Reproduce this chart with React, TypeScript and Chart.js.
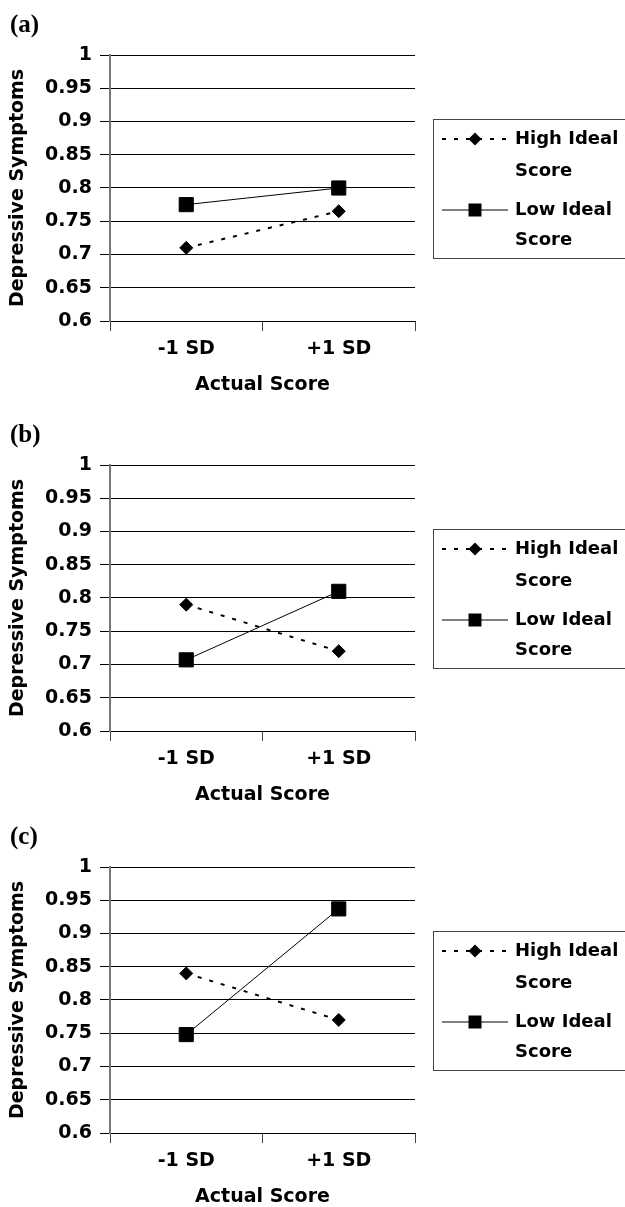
import React, { useEffect, useRef } from 'react';
import { Chart, registerables } from 'chart.js';

Chart.register(...registerables);

const categories = ['-1 SD', '+1 SD'];
const yMin = 0.6;
const yMax = 1;
const yStep = 0.05;
const panelLabels = ['(a)', '(b)', '(c)'];
const highIdealA = [0.71, 0.765];
const lowIdealA = [0.775, 0.8];
const highIdealB = [0.79, 0.72];
const lowIdealB = [0.707, 0.81];
const highIdealC = [0.84, 0.77];
const lowIdealC = [0.748, 0.937];
const seriesNameHigh = ['High Ideal', 'Score'];
const seriesNameLow = ['Low Ideal', 'Score'];
const yTitle = 'Depressive Symptoms';
const xTitle = 'Actual Score';

const panels = [
  { label: panelLabels[0], high: highIdealA, low: lowIdealA, top: 0 },
  { label: panelLabels[1], high: highIdealB, low: lowIdealB, top: 410 },
  { label: panelLabels[2], high: highIdealC, low: lowIdealC, top: 812 },
];

const FONT = 'DejaVu Sans';
const CANVAS_W = 625;
const CANVAS_H = 400;
const PLOT_TOP = 55;
const PLOT_BOTTOM = 321;
const PLOT_LEFT = 110;
const PLOT_RIGHT = 415;

const sideLegend = {
  id: 'sideLegend',
  afterDraw(chart: any) {
    const ctx = chart.ctx;
    const t = chart.chartArea.top;
    ctx.save();
    ctx.strokeStyle = '#444';
    ctx.lineWidth = 1;
    ctx.strokeRect(433.5, t + 64.5, 210, 139);
    const entries = [
      { ds: chart.data.datasets[0], rows: [t + 84, t + 116] },
      { ds: chart.data.datasets[1], rows: [t + 155, t + 185] },
    ];
    ctx.font = `bold 18px ${FONT}`;
    ctx.fillStyle = '#000';
    ctx.textBaseline = 'middle';
    ctx.textAlign = 'left';
    for (const e of entries) {
      const y = e.rows[0];
      ctx.beginPath();
      ctx.strokeStyle = '#000';
      ctx.lineWidth = e.ds.borderWidth;
      ctx.setLineDash(e.ds.borderDash || []);
      ctx.moveTo(442, y);
      ctx.lineTo(508, y);
      ctx.stroke();
      ctx.setLineDash([]);
      ctx.fillStyle = '#000';
      ctx.beginPath();
      if (e.ds.pointStyle === 'rectRot') {
        const r = 6.5;
        ctx.moveTo(475 - r, y);
        ctx.lineTo(475, y - r);
        ctx.lineTo(475 + r, y);
        ctx.lineTo(475, y + r);
        ctx.closePath();
      } else {
        ctx.rect(475 - 6.5, y - 6.5, 13, 13);
      }
      ctx.fill();
      const lines: string[] = e.ds.legendText;
      lines.forEach((s, i) => ctx.fillText(s, 515, e.rows[i]));
    }
    ctx.restore();
  },
};

function Panel({ high, low }: { high: number[]; low: number[] }) {
  const ref = useRef<HTMLCanvasElement | null>(null);
  useEffect(() => {
    if (!ref.current) return;
    const chart = new Chart(ref.current, {
      type: 'line',
      data: {
        labels: categories,
        datasets: [
          {
            label: seriesNameHigh.join(' '),
            legendText: seriesNameHigh,
            data: high,
            borderColor: '#000',
            backgroundColor: '#000',
            borderWidth: 2,
            borderDash: [4, 8],
            pointStyle: 'rectRot',
            pointRadius: 6.5,
            pointBorderWidth: 1,
            pointBackgroundColor: '#000',
            pointBorderColor: '#000',
            tension: 0,
          } as any,
          {
            label: seriesNameLow.join(' '),
            legendText: seriesNameLow,
            data: low,
            borderColor: '#000',
            backgroundColor: '#000',
            borderWidth: 1,
            pointStyle: 'rect',
            pointRadius: 10,
            pointBorderWidth: 1,
            pointBackgroundColor: '#000',
            pointBorderColor: '#000',
            tension: 0,
          } as any,
        ],
      },
      options: {
        responsive: false,
        animation: false,
        devicePixelRatio: 1,
        layout: { padding: { top: PLOT_TOP, right: CANVAS_W - PLOT_RIGHT, left: 0, bottom: 0 } },
        plugins: {
          legend: { display: false },
          tooltip: { enabled: false },
          title: { display: false },
        },
        scales: {
          x: {
            type: 'category',
            offset: true,
            afterFit: (s: any) => {
              s.height = CANVAS_H - PLOT_BOTTOM;
            },
            grid: {
              offset: true,
              drawOnChartArea: false,
              drawTicks: true,
              tickLength: 10,
              color: '#444',
              lineWidth: 1,
            },
            border: { display: true, color: '#000', width: 1 },
            ticks: {
              font: { family: FONT, weight: 'bold', size: 19 },
              color: '#000',
              padding: 7,
              maxRotation: 0,
            },
            title: {
              display: true,
              text: xTitle,
              font: { family: FONT, weight: 'bold', size: 19 },
              color: '#000',
              padding: { top: 0, bottom: 4 },
            },
          },
          y: {
            type: 'linear',
            min: yMin,
            max: yMax,
            afterFit: (s: any) => {
              s.width = PLOT_LEFT;
            },
            ticks: {
              stepSize: yStep,
              font: { family: FONT, weight: 'bold', size: 19 },
              color: '#000',
              padding: 8,
              callback: (v: any) => String(+Number(v).toFixed(2)),
            },
            grid: {
              drawTicks: true,
              tickLength: 10,
              color: '#000',
              lineWidth: 1,
            },
            border: { display: true, color: '#777', width: 2 },
            title: {
              display: true,
              text: yTitle,
              font: { family: FONT, weight: 'bold', size: 19 },
              color: '#000',
              padding: { top: 7, bottom: 0 },
            },
          },
        },
      } as any,
      plugins: [sideLegend],
    });
    return () => chart.destroy();
  }, [high, low]);
  return <canvas ref={ref} width={CANVAS_W} height={CANVAS_H} style={{ width: CANVAS_W, height: CANVAS_H, display: 'block' }} />;
}

export default function App() {
  return (
    <div
      style={{
        position: 'absolute',
        left: 0,
        top: 0,
        width: CANVAS_W,
        height: 1207,
        overflow: 'hidden',
        background: '#fff',
      }}
    >
      {panels.map((p, i) => (
        <div key={i} style={{ position: 'absolute', left: 0, top: p.top, width: CANVAS_W, height: CANVAS_H }}>
          <Panel high={p.high} low={p.low} />
          <div
            style={{
              position: 'absolute',
              left: 10,
              top: 11,
              font: "bold 25px 'Liberation Serif'",
              lineHeight: '25px',
              color: '#000',
            }}
          >
            {p.label}
          </div>
        </div>
      ))}
    </div>
  );
}
